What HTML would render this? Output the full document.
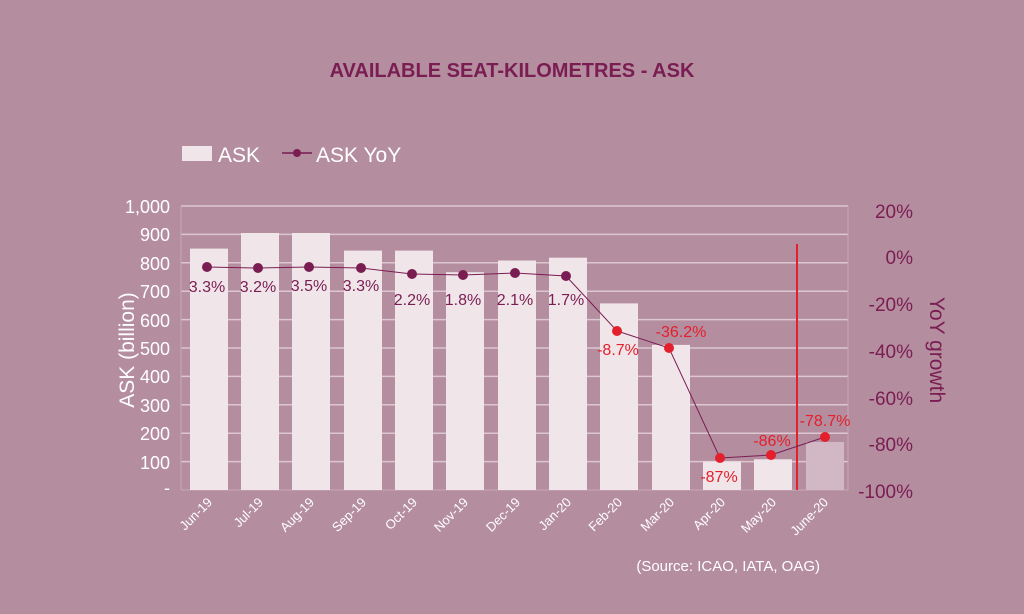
<!DOCTYPE html><html><head><style>body{margin:0;background:#b48d9f}svg{display:block;font-family:"Liberation Sans",sans-serif}</style></head><body>
<svg width="1024" height="614" viewBox="0 0 1024 614">
<rect width="1024" height="614" fill="#b48d9f"/>
<text x="512" y="77" text-anchor="middle" font-size="20" font-weight="bold" fill="#7a1d52">AVAILABLE SEAT-KILOMETRES - ASK</text>
<rect x="182" y="146" width="30" height="15" fill="#f0e6ea"/>
<text x="218" y="162" font-size="21" fill="#fff">ASK</text>
<line x1="282" y1="153" x2="312" y2="153" stroke="#7a1d52" stroke-width="1.5"/><circle cx="297" cy="153" r="4" fill="#7a1d52"/>
<text x="316" y="162" font-size="21" fill="#fff">ASK YoY</text>
<g stroke="#dcc7d0" stroke-width="1.5">
<line x1="181" y1="206" x2="848" y2="206"/><line x1="181" y1="234.4" x2="848" y2="234.4"/><line x1="181" y1="262.8" x2="848" y2="262.8"/><line x1="181" y1="291.2" x2="848" y2="291.2"/><line x1="181" y1="319.6" x2="848" y2="319.6"/><line x1="181" y1="348" x2="848" y2="348"/><line x1="181" y1="376.4" x2="848" y2="376.4"/><line x1="181" y1="404.8" x2="848" y2="404.8"/><line x1="181" y1="433.2" x2="848" y2="433.2"/><line x1="181" y1="461.6" x2="848" y2="461.6"/>
</g>
<line x1="181" y1="490" x2="848" y2="490" stroke="#c9a8b7" stroke-width="1"/>
<line x1="181" y1="206" x2="181" y2="490" stroke="#c9a8b7"/><line x1="848" y1="206" x2="848" y2="490" stroke="#c9a8b7"/>
<g fill="#fff" font-size="18" text-anchor="end">
<text x="170" y="213">1,000</text><text x="170" y="241">900</text><text x="170" y="270">800</text><text x="170" y="298">700</text><text x="170" y="327">600</text><text x="170" y="355">500</text><text x="170" y="383">400</text><text x="170" y="412">300</text><text x="170" y="440">200</text><text x="170" y="469">100</text><text x="170" y="494">-</text>
</g>
<g fill="#7a1d52" font-size="19" text-anchor="end">
<text x="913" y="218">20%</text><text x="913" y="264">0%</text><text x="913" y="311">-20%</text><text x="913" y="358">-40%</text><text x="913" y="405">-60%</text><text x="913" y="451">-80%</text><text x="913" y="498">-100%</text>
</g>
<text transform="translate(134,350) rotate(-90)" text-anchor="middle" font-size="21" fill="#fff">ASK (billion)</text>
<text transform="translate(930,350) rotate(90)" text-anchor="middle" font-size="21" fill="#7a1d52">YoY growth</text>
<g fill="#f0e6ea">
<rect x="190" y="248.6" width="38" height="241.4"/><rect x="241" y="233" width="38" height="257"/><rect x="292" y="233" width="38" height="257"/><rect x="344" y="250.6" width="38" height="239.4"/><rect x="395" y="250.6" width="38" height="239.4"/><rect x="446" y="272.2" width="38" height="217.8"/><rect x="498" y="260.5" width="38" height="229.5"/><rect x="549" y="257.7" width="38" height="232.3"/><rect x="600" y="303.4" width="38" height="186.6"/><rect x="652" y="344.9" width="38" height="145.1"/><rect x="703" y="461.6" width="38" height="28.4"/><rect x="754" y="459.3" width="38" height="30.7"/>
</g>
<rect x="806" y="442" width="38" height="48" fill="#d1b8c4"/>
<line x1="797" y1="244" x2="797" y2="490" stroke="#e3202c" stroke-width="2"/>
<polyline fill="none" stroke="#7a1d52" stroke-width="1" points="207,267 258,268 309,267 361,268 412,274 463,275 515,273 566,276 617,331 669,348 720,458 771,455 825,437"/>
<g fill="#7a1d52"><circle cx="207" cy="267" r="5"/><circle cx="258" cy="268" r="5"/><circle cx="309" cy="267" r="5"/><circle cx="361" cy="268" r="5"/><circle cx="412" cy="274" r="5"/><circle cx="463" cy="275" r="5"/><circle cx="515" cy="273" r="5"/><circle cx="566" cy="276" r="5"/></g>
<g fill="#e3202c"><circle cx="617" cy="331" r="5"/><circle cx="669" cy="348" r="5"/><circle cx="720" cy="458" r="5"/><circle cx="771" cy="455" r="5"/><circle cx="825" cy="437" r="5"/></g>
<g fill="#7a1d52" font-size="16" text-anchor="middle">
<text x="207" y="292">3.3%</text><text x="258" y="292">3.2%</text><text x="309" y="291">3.5%</text><text x="361" y="291">3.3%</text><text x="412" y="305">2.2%</text><text x="463" y="305">1.8%</text><text x="515" y="305">2.1%</text><text x="566" y="305">1.7%</text>
</g>
<g fill="#e3202c" font-size="16" text-anchor="middle">
<text x="618" y="355">-8.7%</text><text x="681" y="337">-36.2%</text><text x="719" y="482">-87%</text><text x="772" y="446">-86%</text><text x="825" y="426">-78.7%</text>
</g>
<g fill="#fff" font-size="13">
<text transform="translate(213,503) rotate(-45)" text-anchor="end">Jun-19</text><text transform="translate(264,503) rotate(-45)" text-anchor="end">Jul-19</text><text transform="translate(315,503) rotate(-45)" text-anchor="end">Aug-19</text><text transform="translate(367,503) rotate(-45)" text-anchor="end">Sep-19</text><text transform="translate(418,503) rotate(-45)" text-anchor="end">Oct-19</text><text transform="translate(469,503) rotate(-45)" text-anchor="end">Nov-19</text><text transform="translate(521,503) rotate(-45)" text-anchor="end">Dec-19</text><text transform="translate(572,503) rotate(-45)" text-anchor="end">Jan-20</text><text transform="translate(623,503) rotate(-45)" text-anchor="end">Feb-20</text><text transform="translate(675,503) rotate(-45)" text-anchor="end">Mar-20</text><text transform="translate(726,503) rotate(-45)" text-anchor="end">Apr-20</text><text transform="translate(777,503) rotate(-45)" text-anchor="end">May-20</text><text transform="translate(829,503) rotate(-45)" text-anchor="end">June-20</text>
</g>
<text x="820" y="571" text-anchor="end" font-size="15" fill="#fff">(Source: ICAO, IATA, OAG)</text>
</svg></body></html>
